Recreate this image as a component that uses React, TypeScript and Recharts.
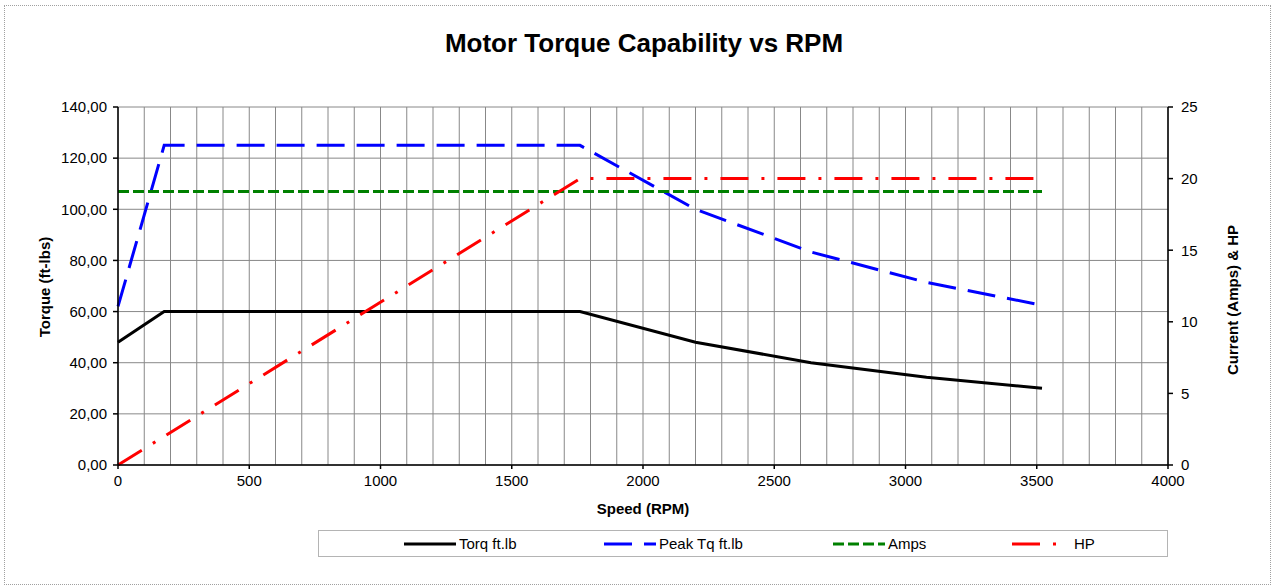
import React from 'react';
import { LineChart, Line, XAxis, YAxis, CartesianGrid, Label } from 'recharts';

// speed points (RPM)
const rpm = [0, 176, 1760, 2200, 2640, 3080, 3520];
const torque = [48, 60, 60, 48, 40, 34.3, 30];
const peakTorque = [62, 125, 125, 100, 83.3, 71.4, 62.5];
const amps = [19.1, 19.1, 19.1, 19.1, 19.1, 19.1, 19.1];
const hp = [0, 2, 20, 20, 20, 20, 20];

const xTicks = [0, 500, 1000, 1500, 2000, 2500, 3000, 3500, 4000];
const leftTicks = [0, 20, 40, 60, 80, 100, 120, 140];
const rightTicks = [0, 5, 10, 15, 20, 25];
const gridRpm = Array.from({ length: 41 }, (_, i) => i * 100);

const data = rpm.map((r, i) => ({
  rpm: r,
  torque: torque[i],
  peak: peakTorque[i],
  amps: amps[i],
  hp: hp[i]
}));

const FONT = '"Liberation Sans", Arial, sans-serif';

const series = [
  { key: 'torque', name: 'Torq ft.lb', color: '#000000', dash: undefined, axis: 'left', legendX: 85 },
  { key: 'peak', name: 'Peak Tq ft.lb', color: '#0000FF', dash: '28 12', axis: 'left', legendX: 285 },
  { key: 'amps', name: 'Amps', color: '#008000', dash: '11 4', axis: 'right', legendX: 514 },
  { key: 'hp', name: 'HP', color: '#FF0000', dash: '28 13 3 13', axis: 'right', legendX: 693 }
];

const ChartLegend = () => (
  <div style={{ position: 'absolute', left: 318, top: 530, width: 848, height: 25, border: '1px solid #b4b4b4', background: '#fff' }}>
    {series.map(s => (
      <div key={s.key} style={{ position: 'absolute', left: s.legendX, top: 0, height: 25, display: 'flex', alignItems: 'center' }}>
        <svg width={52} height={6}>
          <line x1={0} y1={3} x2={52} y2={3} stroke={s.color} strokeWidth={3} strokeDasharray={s.dash} />
        </svg>
        <span style={{ fontFamily: FONT, fontSize: 15, color: '#000', marginLeft: s.key === 'hp' ? 10 : 3 }}>{s.name}</span>
      </div>
    ))}
  </div>
);

const fmtLeft = (v: number) => v.toFixed(2).replace('.', ',');

const App = () => {
  const tickStyle = { fontFamily: FONT, fontSize: 15, fill: '#000' };
  return <div style={{ position: 'absolute', left: 0, top: 0, width: 1273, height: 588, background: '#fff' }}>
      <div style={{ position: 'absolute', left: 4, top: 5, width: 1265, height: 578, border: '1px dotted #a0a0a0' }} />
      <div style={{ position: 'absolute', left: 0, top: 28, width: 1288, textAlign: 'center', fontFamily: FONT, fontWeight: 'bold', fontSize: 26, color: '#000' }}>
        Motor Torque Capability vs RPM
      </div>
      <LineChart width={1273} height={588} data={data} margin={{
      top: 107,
      right: 45,
      bottom: 93,
      left: 58
    }} style={{ position: 'absolute', left: 0, top: 0 }}>
        <CartesianGrid stroke="#888" strokeWidth={1} verticalValues={gridRpm} horizontalValues={leftTicks} yAxisId="left" />
        <XAxis dataKey="rpm" type="number" domain={[0, 4000]} ticks={xTicks} interval={0} height={30} tick={tickStyle} tickSize={4} tickMargin={6} stroke="#000" strokeWidth={1.5}>
          <Label content={(props: any) => {
          const vb = props.viewBox;
          return <text x={vb.x + vb.width / 2} y={514} textAnchor="middle" fontFamily={FONT} fontSize={15} fontWeight="bold" fill="#000">Speed (RPM)</text>;
        }} />
        </XAxis>
        <YAxis yAxisId="left" orientation="left" domain={[0, 140]} ticks={leftTicks} interval={0} width={60} tickFormatter={fmtLeft} tick={tickStyle} tickSize={5} tickMargin={6} stroke="#000" strokeWidth={1.5}>
          <Label content={() => <text x={44} y={287} transform="rotate(-90 44 287)" textAnchor="middle" dominantBaseline="central" fontFamily={FONT} fontSize={15} fontWeight="bold" fill="#000">Torque (ft-lbs)</text>} />
        </YAxis>
        <YAxis yAxisId="right" orientation="right" domain={[0, 25]} ticks={rightTicks} interval={0} width={60} tick={tickStyle} tickSize={5} tickMargin={8} stroke="#000" strokeWidth={1.5}>
          <Label content={() => <text x={1232} y={300} transform="rotate(-90 1232 300)" textAnchor="middle" dominantBaseline="central" fontFamily={FONT} fontSize={15} fontWeight="bold" fill="#000">Current (Amps) &amp; HP</text>} />
        </YAxis>
        {series.map(s => <Line key={s.key} yAxisId={s.axis} type="linear" dataKey={s.key} name={s.name} stroke={s.color} strokeWidth={3} strokeDasharray={s.dash} dot={false} activeDot={false} isAnimationActive={false} />)}
      </LineChart>
      <ChartLegend />
    </div>;
};

export default App;
